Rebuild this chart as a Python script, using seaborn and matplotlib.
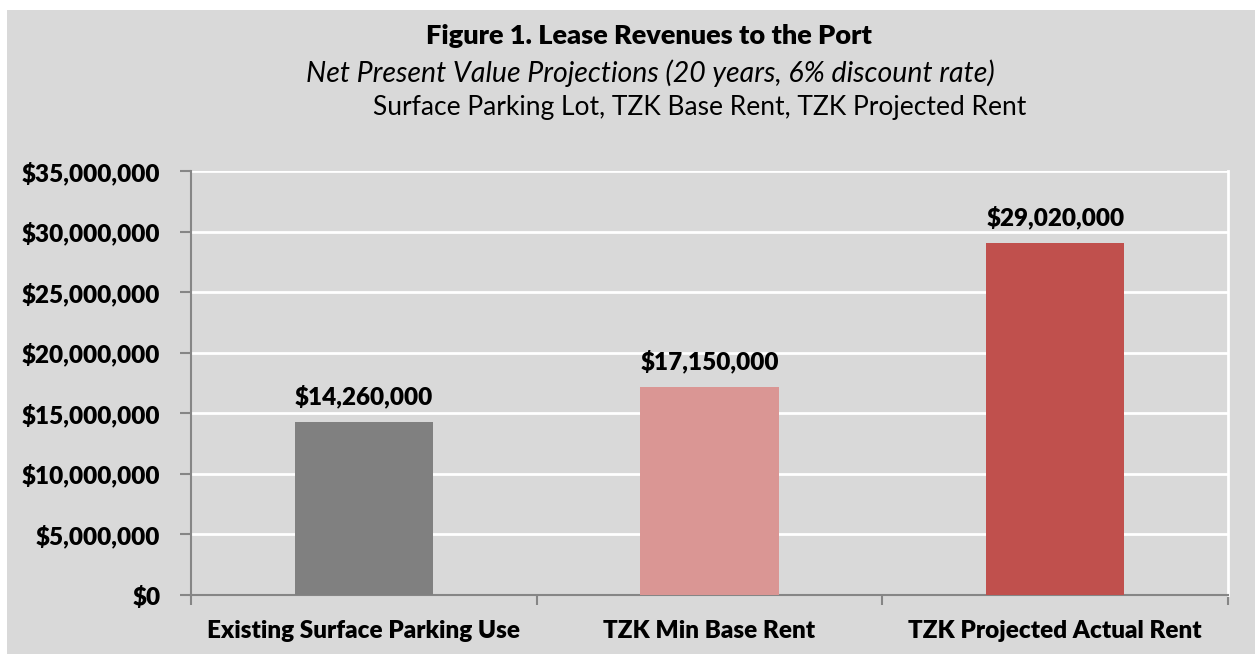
import matplotlib
matplotlib.use('Agg')
import matplotlib.pyplot as plt
import matplotlib.ticker as mticker
from matplotlib.patches import Rectangle
import seaborn as sns
import pandas as pd

# Data
categories = ['Existing Surface Parking Use', 'TZK Min Base Rent', 'TZK Projected Actual Rent']
npv_values = [14260000, 17150000, 29020000]
bar_colors = ['#808080', '#da9694', '#c0504d']
y_ticks = [0, 5000000, 10000000, 15000000, 20000000, 25000000, 30000000, 35000000]

df = pd.DataFrame({'category': categories, 'npv': npv_values})

sns.set_theme(style='white')
plt.rcParams['font.family'] = ['Lato', 'DejaVu Sans']

bg = '#d9d9d9'
fig = plt.figure(figsize=(12.55, 6.54), dpi=100)
fig.patch.set_facecolor('white')
fig.patches.append(Rectangle((7 / 1255, 0), 1 - 7 / 1255, 1 - 10 / 654,
                             transform=fig.transFigure, facecolor=bg,
                             edgecolor='none', zorder=-10))

ax = fig.add_axes([191 / 1255, 59 / 654, 1037 / 1255, 424 / 654])
ax.set_facecolor(bg)

sns.barplot(data=df, x='category', y='npv', hue='category', palette=bar_colors,
            saturation=1, width=0.4, legend=False, linewidth=0, edgecolor='none',
            ax=ax, zorder=3)

ax.set_ylim(0, 35000000)
ax.set_xlim(-0.5, 2.5)
ax.set_yticks(y_ticks)
ax.yaxis.set_major_formatter(mticker.StrMethodFormatter('${x:,.0f}'))
ax.yaxis.grid(True, color='white', linewidth=2, zorder=0)
ax.set_xlabel('')
ax.set_ylabel('')

for lbl in ax.get_yticklabels():
    lbl.set_fontweight('heavy')
for lbl in ax.get_xticklabels():
    lbl.set_fontweight('heavy')
ax.tick_params(axis='y', labelsize=17.5, labelcolor='black', length=8, width=1.5,
               color='#868686', direction='out', pad=14, left=True)
ax.tick_params(axis='x', which='major', labelsize=17.5, labelcolor='black', length=0, pad=18)
ax.xaxis.set_minor_locator(mticker.FixedLocator([-0.5, 0.5, 1.5, 2.5]))
ax.tick_params(axis='x', which='minor', length=7, width=1.5, color='#868686',
               direction='out', bottom=True)

for side in ['left', 'bottom']:
    ax.spines[side].set_color('#868686')
    ax.spines[side].set_linewidth(1.5)
ax.spines['top'].set_visible(False)
ax.spines['right'].set_color('white')
ax.spines['right'].set_linewidth(2)

for container in ax.containers:
    ax.bar_label(container, labels=[f'${v:,.0f}' for v in container.datavalues],
                 padding=10, fontsize=17.5, fontweight='heavy', color='black')

fig.text(0.517, 1 - 36 / 654, 'Figure 1. Lease Revenues to the Port',
         ha='center', va='center', fontsize=19.5, fontweight='heavy', color='black')
fig.text(0.518, 1 - 73 / 654, 'Net Present Value Projections (20 years, 6% discount rate)',
         ha='center', va='center', fontsize=20.5, fontstyle='italic', color='black')
fig.text(700 / 1255, 1 - 107 / 654, 'Surface Parking Lot, TZK Base Rent, TZK Projected Rent',
         ha='center', va='center', fontsize=19, color='black')

fig.savefig('out.png', dpi=100, facecolor=fig.get_facecolor())
